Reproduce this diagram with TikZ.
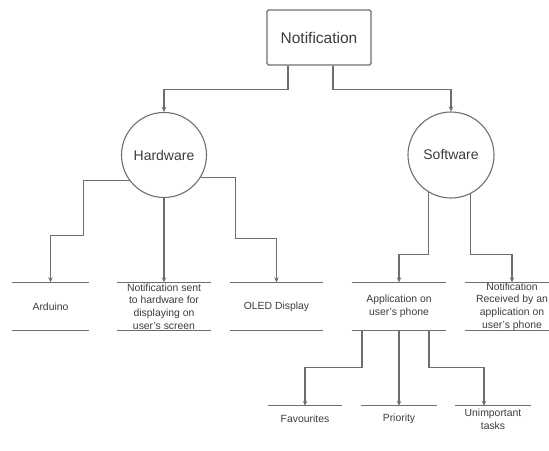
\documentclass[tikz,border=0pt]{standalone}
\usepackage{fontspec}
\setmainfont{Liberation Sans}
\usetikzlibrary{arrows.meta}

\definecolor{linegray}{HTML}{6E6E6E}
\definecolor{textgray}{HTML}{3C3C3C}

\begin{document}
\begin{tikzpicture}[
  x=1pt, y=-1pt,
  line/.style={draw=linegray, line width=1.1pt},
  arr/.style={draw=linegray, line width=1.1pt, -{Stealth[length=5pt,width=4.5pt]}},
  topnode/.style={shape=rectangle, draw=linegray, line width=1.1pt, rounded corners=1.5pt, minimum width=104pt, minimum height=55pt, text=textgray, font=\fontsize{15.5}{18}\selectfont},
  circlenode/.style={shape=circle, draw=linegray, line width=1.1pt, inner sep=0pt, minimum size=85pt, text=textgray, font=\fontsize{14}{16}\selectfont},
  storenode/.style={shape=rectangle, inner sep=0pt, minimum width=94pt, minimum height=48pt, align=center, text=textgray, font=\fontsize{10.4}{12.6}\selectfont},
  leafnode/.style={shape=rectangle, inner sep=0pt, minimum width=75pt, minimum height=26pt, align=center, text=textgray, font=\fontsize{10.4}{12.6}\selectfont},
]

\useasboundingbox (0,0) rectangle (549,450);
\clip (0,0) rectangle (549,450);

%TOP
\node[topnode] (notif) at (319,37.5) {Notification};

\node[circlenode] (hw) at (164,155) {Hardware};
\node[circlenode, minimum size=86pt] (sw) at (451,155) {Software};

%HARDWARE SIDE
\node[storenode, minimum width=76pt] (ard) at (50.5,306.5) {Arduino};
\node[storenode] (sent) at (164,306.5) {Notification sent\\to hardware for\\displaying on\\user's screen};
\node[storenode, minimum width=93pt] (oled) at (276.5,306.5) {OLED Display};

%SOFTWARE SIDE
\node[storenode] (app) at (399,306.5) {Application on\\user's phone};
\node[storenode] (recv) at (512,306.5) {Notification\\Received by an\\application on\\user's phone};

%APPLICATION
\node[leafnode, minimum width=74pt] (fav) at (305,419) {Favourites};
\node[leafnode] (prio) at (399,419) {Priority};
\node[leafnode, minimum width=76pt] (unimp) at (493,419) {Unimportant\\tasks};

%LINES ABOVE AND BELOW
\foreach \n in {ard,sent,oled,app,recv}
  \draw[line] (\n.north west) -- (\n.north east) (\n.south west) -- (\n.south east);
\foreach \n in {fav,prio,unimp}
  \draw[line] (\n.north west) -- (\n.north east);

%ARROWS
\draw[arr] ([xshift=-31pt]notif.south) -- ++(0,24) -| (hw.north);
\draw[arr] ([xshift=14pt]notif.south) -- ++(0,24) -| (sw.north);

\draw[arr] (hw.217) -- ++(-46,0) |- ([yshift=47pt]ard.north) -- (ard.north);
\draw[arr] (hw.south) -- (sent.north);
\draw[arr] (hw.-32) -- ++(35,0) |- ([yshift=44pt]oled.north) -- (oled.north);

\draw[arr] (sw.-121) |- ([yshift=28pt]app.north) -- (app.north);
\draw[arr] (sw.-64) |- ([yshift=28pt]recv.north) -- (recv.north);

\draw[arr] ([xshift=-37pt]app.south) |- ([yshift=38pt]fav.north) -- (fav.north);
\draw[arr] (app.south) -- (prio.north);
\draw[arr] ([xshift=30pt]app.south) |- ([xshift=-9pt,yshift=38pt]unimp.north) -- ([xshift=-9pt]unimp.north);

\end{tikzpicture}
\end{document}
